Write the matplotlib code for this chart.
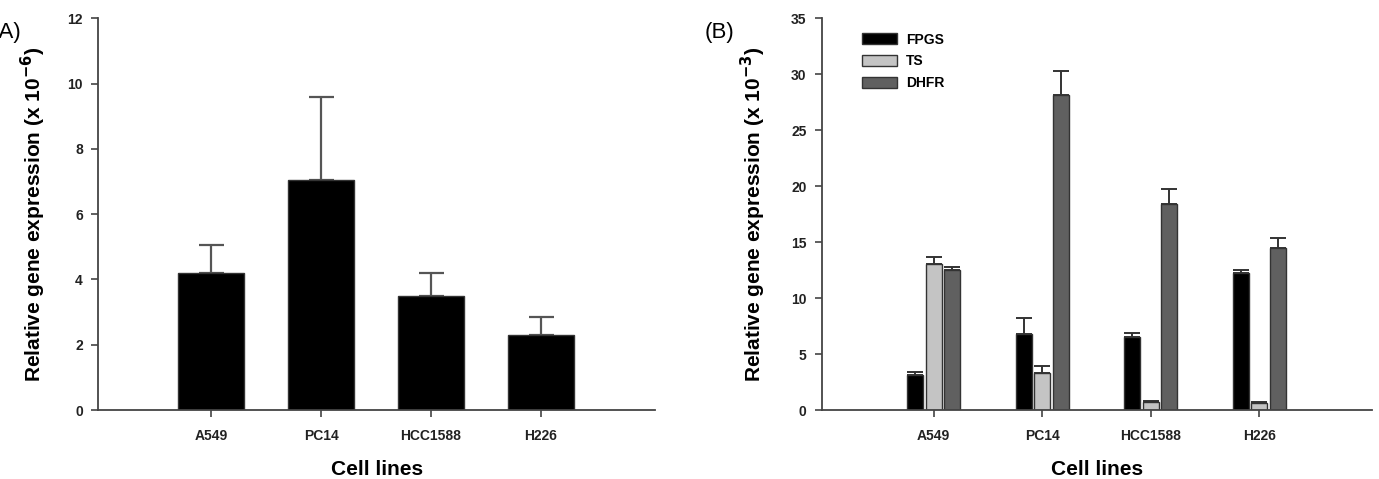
import matplotlib
matplotlib.use("Agg")
import matplotlib.pyplot as plt
import numpy as np

plt.rcParams['font.family'] = ['Liberation Sans', 'DejaVu Sans']

cells = ["A549", "PC14", "HCC1588", "H226"]

# Panel A
a_vals = [4.2, 7.05, 3.5, 2.3]
a_err = [0.85, 2.55, 0.7, 0.55]

# Panel B
genes = ["FPGS", "TS", "DHFR"]
fpgs_vals = [3.1, 6.8, 6.5, 12.2]
fpgs_err = [0.3, 1.4, 0.35, 0.3]
ts_vals = [13.0, 3.3, 0.7, 0.6]
ts_err = [0.65, 0.6, 0.1, 0.15]
dhfr_vals = [12.5, 28.1, 18.4, 14.5]
dhfr_err = [0.3, 2.2, 1.3, 0.9]

gene_colors = ["#000000", "#c4c4c4", "#606060"]
edge = "#333333"
axcol = "#444444"

fig = plt.figure(figsize=(13.79, 4.79), dpi=100)
axA = fig.add_axes([0.0711, 0.144, 0.404, 0.818])
axB = fig.add_axes([0.596, 0.144, 0.399, 0.818])

def style(ax, ymax, ystep):
    for s in ["top", "right"]:
        ax.spines[s].set_visible(False)
    for s in ["left", "bottom"]:
        ax.spines[s].set_color(axcol)
        ax.spines[s].set_linewidth(1.3)
    ax.set_xlim(-1.03, 4.04)
    ax.set_ylim(0, ymax)
    ax.set_yticks(np.arange(0, ymax + 0.1, ystep))
    ax.set_xticks(range(len(cells)))
    ax.set_xticklabels(cells)
    ax.tick_params(axis="both", direction="out", length=5, width=1.2, color=axcol,
                   labelsize=10, pad=6)
    ax.tick_params(axis="x", pad=9)
    for lbl in ax.get_xticklabels() + ax.get_yticklabels():
        lbl.set_fontweight("bold")
        lbl.set_color("#222222")
    ax.set_xlabel("Cell lines", fontsize=15, fontweight="bold", labelpad=12)

x = np.arange(len(cells))
axA.bar(x, a_vals, width=0.6, color="black", edgecolor=edge, linewidth=1, zorder=2)
axA.errorbar(x, a_vals, yerr=[np.zeros(len(a_vals)), a_err], fmt="none",
             ecolor="#555555", elinewidth=1.6, capsize=9, capthick=1.6, zorder=1)
style(axA, 12, 2)
axA.set_ylabel(r"Relative gene expression (x 10$^{\mathbf{-6}}$)", fontsize=15,
               fontweight="bold")
axA.yaxis.set_label_coords(-0.09, 0.5)

w = 0.145
offs = [-0.17, 0.0, 0.17]
series = [(fpgs_vals, fpgs_err), (ts_vals, ts_err), (dhfr_vals, dhfr_err)]
for (vals, err), col, off, name in zip(series, gene_colors, offs, genes):
    axB.bar(x + off, vals, width=w, color=col, edgecolor=edge, linewidth=1,
            label=name, zorder=2)
    axB.errorbar(x + off, vals, yerr=[np.zeros(len(vals)), err], fmt="none",
                 ecolor="#333333", elinewidth=1.4, capsize=6, capthick=1.4, zorder=1)
style(axB, 35, 5)
axB.set_ylabel(r"Relative gene expression (x 10$^{\mathbf{-3}}$)", fontsize=15,
               fontweight="bold")
axB.yaxis.set_label_coords(-0.098, 0.5)
leg = axB.legend(loc="upper left", bbox_to_anchor=(0.05, 0.995), frameon=False,
                 handlelength=2.5, handleheight=0.85, labelspacing=0.55,
                 handletextpad=0.7, prop={"weight": "bold", "size": 10})

fig.text(-0.006, 0.932, "(A)", fontsize=16, ha="left", va="center")
fig.text(0.511, 0.932, "(B)", fontsize=16, ha="left", va="center")

fig.savefig("out.png", dpi=100)
